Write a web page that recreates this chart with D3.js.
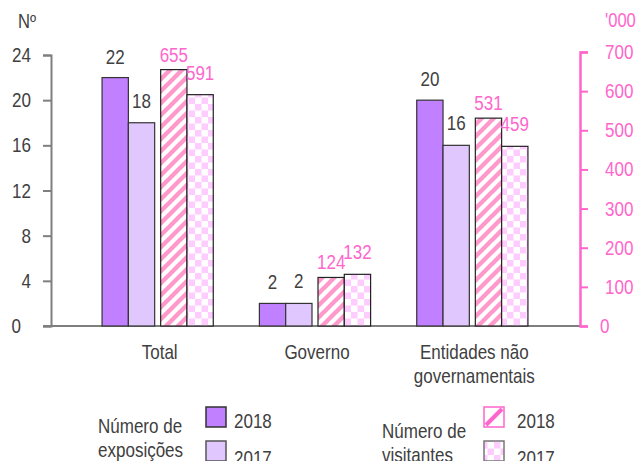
<!DOCTYPE html>
<html>
<head>
<meta charset="utf-8">
<script src="https://cdn.jsdelivr.net/npm/d3@7"></script>
<style>
  body { margin: 0; background: #fff; }
  svg text { font-family: "Liberation Sans", Arial, sans-serif; }
</style>
</head>
<body>
<svg id="container" width="640" height="461"></svg>
<script>
const categories = ["Total", "Governo", "Entidades não governamentais"];
const exposicoes2018 = [22, 2, 20];
const exposicoes2017 = [18, 2, 16];
const visitantes2018 = [655, 124, 531];
const visitantes2017 = [591, 132, 459];
const leftTicks = [0, 4, 8, 12, 16, 20, 24];
const rightTicks = [0, 100, 200, 300, 400, 500, 600, 700];

const GRAY = "#7f7f7f", TEXT = "#404040", PINK = "#ff66cc";
const PURPLE = "#c080ff", LILAC = "#e0c8ff";
const SQUEEZE = 0.83; // the source uses a narrow face

let svg = d3.select("#container");
let defs = svg.append("defs");

// squeeze text horizontally (around its own anchor) to mimic a narrow font
function narrow(sel) {
  sel.each(function() {
    let t = d3.select(this);
    let tx = +t.attr("x"), ty = +t.attr("y");
    t.attr("x", 0).attr("y", 0)
      .attr("transform", `translate(${tx},${ty}) scale(${SQUEEZE},1)`);
  });
}

// stripes "/" for visitors 2018
let stripes = defs.append("pattern")
  .attr("id", "stripes")
  .attr("patternUnits", "userSpaceOnUse")
  .attr("width", 12).attr("height", 12);
stripes.append("rect").attr("width", 12).attr("height", 12).attr("fill", "#fff");
stripes.append("path")
  .attr("d", "M-3,3 L3,-3 M0,12 L12,0 M9,15 L15,9")
  .attr("stroke", "#ff99cc").attr("stroke-width", 4.4);

// checker for visitors 2017
let checker = defs.append("pattern")
  .attr("id", "checker")
  .attr("patternUnits", "userSpaceOnUse")
  .attr("width", 13).attr("height", 13);
checker.append("rect").attr("width", 13).attr("height", 13).attr("fill", "#fff");
checker.append("rect").attr("width", 6.5).attr("height", 6.5).attr("fill", "#ffccff");
checker.append("rect").attr("x", 6.5).attr("y", 6.5).attr("width", 6.5).attr("height", 6.5).attr("fill", "#ffccff");

const y = d3.scaleLinear().domain([0, 24]).range([326, 55]);
const y2 = d3.scaleLinear().domain([0, 700]).range([326, 52]);
const x0 = d3.scaleBand().domain(categories).range([79, 551]);
const barW = 26.3, gap = 6;
const groupW = 4 * barW + gap;
const keys = ["e2018", "e2017", "v2018", "v2017"];
const x1 = d3.scaleBand().domain(keys).range([0, 4 * barW]);

const series = [
  {key: "e2018", values: exposicoes2018, scale: y, fill: PURPLE, stroke: "#333", color: TEXT, off: 14},
  {key: "e2017", values: exposicoes2017, scale: y, fill: LILAC, stroke: "#333", color: TEXT, off: 15},
  {key: "v2018", values: visitantes2018, scale: y2, fill: "url(#stripes)", stroke: "#222", color: PINK, off: 8},
  {key: "v2017", values: visitantes2017, scale: y2, fill: "url(#checker)", stroke: "#222", color: PINK, off: 15}
];

function barX(cat, key) {
  let start = x0(cat) + (x0.bandwidth() - groupW) / 2;
  return start + x1(key) + (key[0] === "v" ? gap : 0);
}

// baseline
svg.append("line")
  .attr("x1", 43).attr("x2", 580)
  .attr("y1", y(0)).attr("y2", y(0))
  .attr("stroke", GRAY).attr("stroke-width", 2);

// bars
series.forEach(s => {
  let rows = categories.map((c, i) => ({cat: c, v: s.values[i]}));
  let g = svg.append("g").attr("class", "bars-" + s.key);
  g.selectAll("rect")
    .data(rows)
    .enter()
    .append("rect")
    .attr("x", d => barX(d.cat, s.key))
    .attr("y", d => s.scale(d.v))
    .attr("width", x1.bandwidth())
    .attr("height", d => s.scale(0) - s.scale(d.v))
    .attr("fill", s.fill)
    .attr("stroke", s.stroke)
    .attr("stroke-width", 1.2);

  g.selectAll("text")
    .data(rows)
    .enter()
    .append("text")
    .attr("x", d => barX(d.cat, s.key) + x1.bandwidth() / 2)
    .attr("y", d => s.scale(d.v) - s.off)
    .attr("text-anchor", "middle")
    .attr("font-size", 20.5)
    .attr("fill", s.color)
    .text(d => d.v)
    .call(narrow);
});

// left axis (line + ticks from d3, labels drawn below)
let yAxis = svg.append("g")
  .attr("class", "y-axis")
  .attr("transform", "translate(51,0)")
  .call(d3.axisLeft(y).tickValues(leftTicks).tickSize(8).tickFormat(""));
yAxis.select(".domain").attr("stroke", GRAY).attr("stroke-width", 2);
yAxis.selectAll(".tick line").attr("stroke", GRAY).attr("stroke-width", 2);

svg.append("g").selectAll("text")
  .data(leftTicks)
  .enter()
  .append("text")
  .attr("x", d => d === 0 ? 21 : 31)
  .attr("y", d => y(d) + 7)
  .attr("text-anchor", "end")
  .attr("font-size", 20.5).attr("fill", TEXT)
  .text(d => d)
  .call(narrow);

// right axis
let yAxis2 = svg.append("g")
  .attr("class", "y-axis2")
  .attr("transform", "translate(580,0)")
  .call(d3.axisRight(y2).tickValues(rightTicks).tickSize(8).tickFormat(""));
yAxis2.select(".domain").attr("stroke", PINK).attr("stroke-width", 2.5);
yAxis2.selectAll(".tick line").attr("stroke", PINK).attr("stroke-width", 2);

svg.append("g").selectAll("text")
  .data(rightTicks)
  .enter()
  .append("text")
  .attr("x", d => d === 0 ? 600 : 605)
  .attr("y", d => y2(d) + 7)
  .attr("font-size", 20.5).attr("fill", PINK)
  .text(d => d)
  .call(narrow);

// axis unit labels
svg.append("text").attr("x", 18).attr("y", 28).attr("font-size", 20).attr("fill", TEXT).text("Nº").call(narrow);
svg.append("text").attr("x", 605).attr("y", 27).attr("font-size", 20).attr("fill", PINK).text("'000").call(narrow);

// category labels
categories.forEach(c => {
  let lines = c === "Entidades não governamentais" ? ["Entidades não", "governamentais"] : [c];
  lines.forEach((l, i) => {
    svg.append("text")
      .attr("text-anchor", "middle")
      .attr("font-size", 20.5)
      .attr("fill", TEXT)
      .attr("x", x0(c) + x0.bandwidth() / 2 + 2)
      .attr("y", 359 + i * 24)
      .text(l)
      .call(narrow);
  });
});

// legend
const legend = [
  {title: ["Número de", "exposições"], tx: 98, sx: 206, items: [
    {label: "2018", fill: PURPLE, stroke: "#333"},
    {label: "2017", fill: LILAC, stroke: "#555"}]},
  {title: ["Número de", "visitantes"], tx: 382, sx: 484, items: [
    {label: "2018", fill: "#fff", stroke: PINK, slash: true},
    {label: "2017", fill: "url(#checker)", stroke: "#777"}]}
];
legend.forEach((lg, li) => {
  let g = svg.append("g");
  let ty = li === 0 ? 433 : 438;
  lg.title.forEach((t, i) => {
    g.append("text").attr("x", lg.tx).attr("y", ty + i * 24)
      .attr("font-size", 20.5).attr("fill", TEXT).text(t).call(narrow);
  });
  lg.items.forEach((it, i) => {
    let sy = 407 + i * 34;
    g.append("rect").attr("x", lg.sx).attr("y", sy).attr("width", 20).attr("height", 20)
      .attr("fill", it.fill).attr("stroke", it.stroke).attr("stroke-width", 1.5);
    if (it.slash) {
      g.append("line").attr("x1", lg.sx + 2).attr("y1", sy + 18)
        .attr("x2", lg.sx + 18).attr("y2", sy + 2)
        .attr("stroke", PINK).attr("stroke-width", 4);
    }
    g.append("text").attr("x", lg.sx + 28 + (li === 1 ? 5 : 0)).attr("y", sy + 21 + (i === 1 ? 3 : 0))
      .attr("font-size", 20.5).attr("fill", TEXT).text(it.label).call(narrow);
  });
});
</script>
</body>
</html>
